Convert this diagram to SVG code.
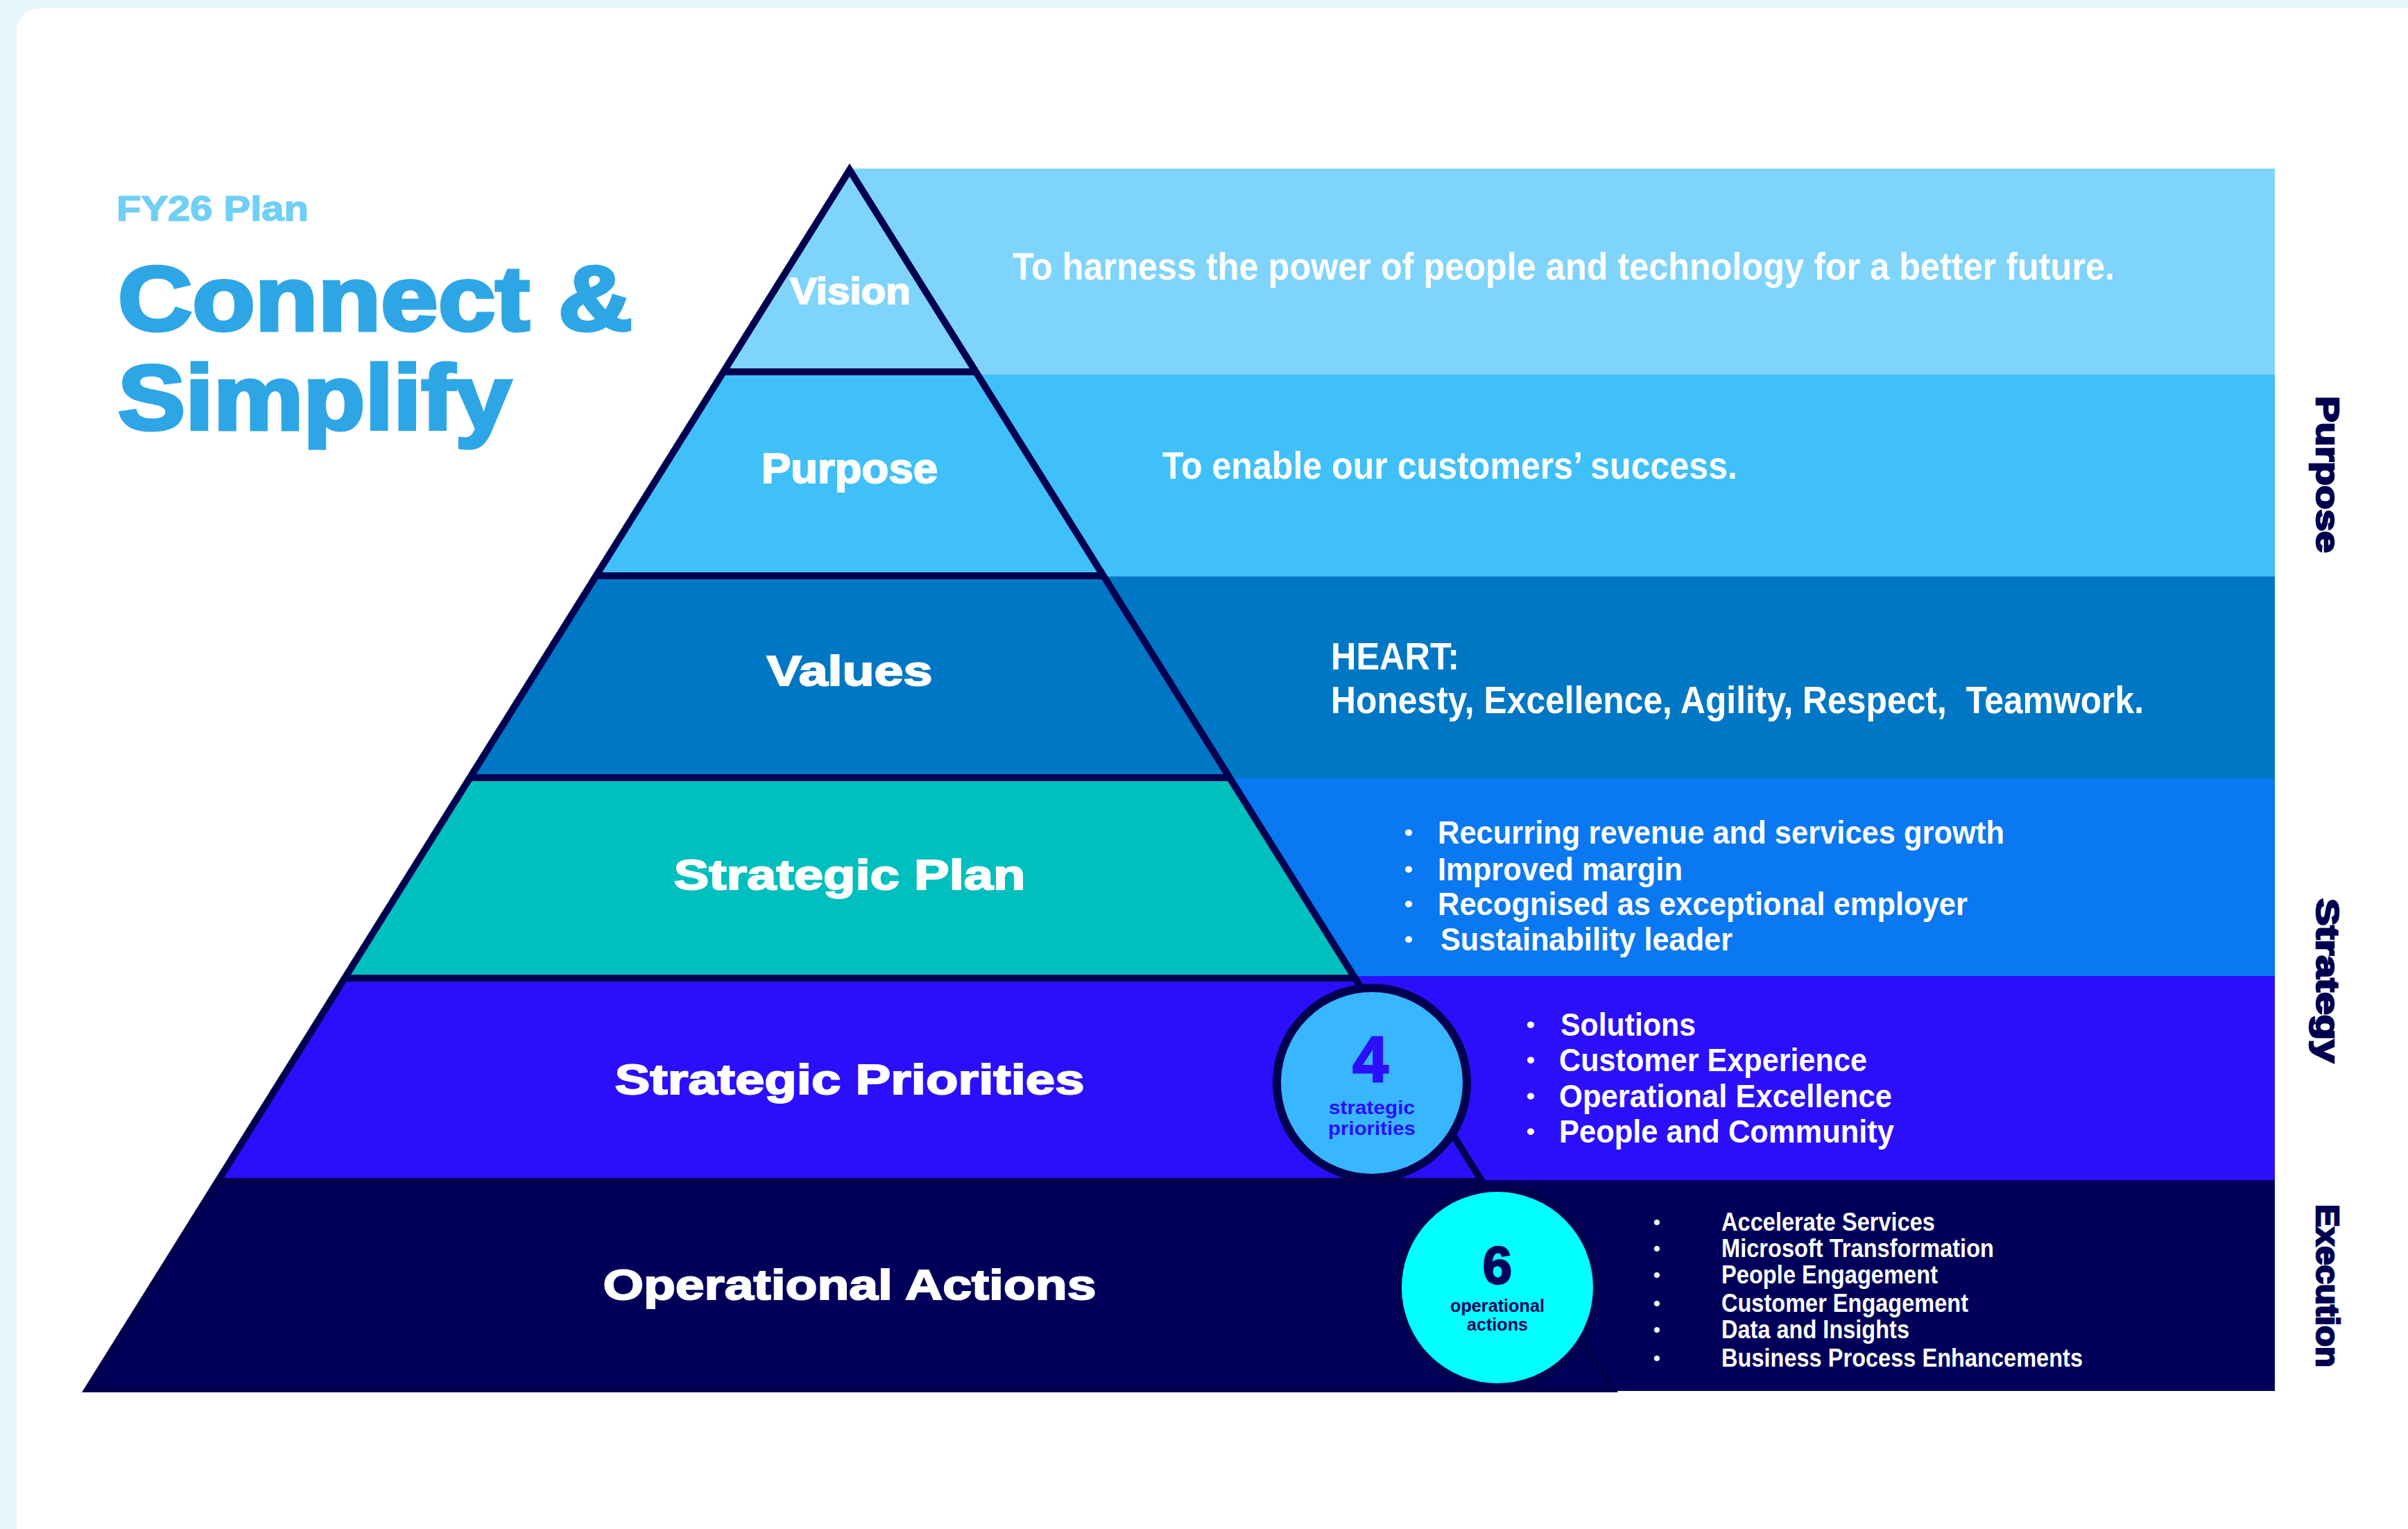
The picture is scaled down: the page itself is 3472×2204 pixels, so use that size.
<svg xmlns="http://www.w3.org/2000/svg" width="3472" height="2204" viewBox="0 0 3472 2204">
<style>
text{font-family:"Liberation Sans",Arial,sans-serif;font-weight:700;paint-order:stroke}
.t{font-size:62px;text-anchor:middle;fill:#fff;stroke:#fff;stroke-width:2px}
.b{font-size:46px;fill:#fff}
.s{font-size:36px;fill:#fff}
.d{font-size:55px;fill:#fff}
.bb{font-size:34px;fill:#fff}
.sb{font-size:28px;fill:#fff}
.side{font-size:46px;fill:#00004f;stroke:#00004f;stroke-width:2.5px}
.head{fill:#2ea6e6;stroke:#2ea6e6;stroke-width:5px;font-size:132px}
.ln{stroke:#00004f;stroke-width:10;fill:none}
</style>
<rect width="3472" height="2204" fill="#e6f6fd"/>
<rect x="24" y="12" width="3500" height="2300" rx="32" fill="#fff"/>
<g id="title">
<text x="168" y="318" font-size="50" fill="#6fcff5" stroke="#6fcff5" stroke-width="1.5" textLength="277" lengthAdjust="spacingAndGlyphs">FY26 Plan</text>
<text class="head" x="170" y="476" textLength="742" lengthAdjust="spacingAndGlyphs">Connect &amp;</text>
<text class="head" x="170" y="619" textLength="567" lengthAdjust="spacingAndGlyphs">Simplify</text>
</g>
<g id="tier-vision">
<rect x="1225" y="243" width="2055" height="297" fill="#7fd4fb"/>
<polygon points="1225,243 1410,538 1040,538" fill="#7fd4fb"/>
<text class="t" x="1226" y="438" style="font-size:54px" textLength="174" lengthAdjust="spacingAndGlyphs">Vision</text>
<text class="d" x="1460" y="403" textLength="1589" lengthAdjust="spacingAndGlyphs">To harness the power of people and technology for a better future.</text>
</g>
<g id="tier-purpose">
<polygon points="1040,540 3280,540 3280,831 858,831" fill="#40c0f8"/>
<text class="t" x="1225" y="696" textLength="254" lengthAdjust="spacingAndGlyphs">Purpose</text>
<text class="d" x="1676" y="690" textLength="829" lengthAdjust="spacingAndGlyphs">To enable our customers’ success.</text>
</g>
<g id="tier-values">
<polygon points="858,831 3280,831 3280,1122 675,1122" fill="#0077c4"/>
<text class="t" x="1225" y="988" textLength="239" lengthAdjust="spacingAndGlyphs">Values</text>
<text class="d" x="1919" y="965" textLength="185" lengthAdjust="spacingAndGlyphs">HEART:</text>
<text class="d" x="1919" y="1028" textLength="1172" lengthAdjust="spacingAndGlyphs" xml:space="preserve">Honesty, Excellence, Agility, Respect,  Teamwork.</text>
</g>
<g id="tier-strategic-plan">
<rect x="1775" y="1122" width="1505" height="285" fill="#0a78f0"/>
<polygon points="675,1121 1775,1121 1954,1408 496,1408" fill="#00bfbf"/>
<text class="t" x="1225" y="1282" textLength="507" lengthAdjust="spacingAndGlyphs">Strategic Plan</text>
<text class="bb" x="2025" y="1211">•</text><text class="b" x="2073" y="1216" textLength="817" lengthAdjust="spacingAndGlyphs">Recurring revenue and services growth</text>
<text class="bb" x="2025" y="1264">•</text><text class="b" x="2073" y="1269" textLength="353" lengthAdjust="spacingAndGlyphs">Improved margin</text>
<text class="bb" x="2025" y="1314">•</text><text class="b" x="2073" y="1319" textLength="764" lengthAdjust="spacingAndGlyphs">Recognised as exceptional employer</text>
<text class="bb" x="2025" y="1365">•</text><text class="b" x="2077" y="1370" textLength="421" lengthAdjust="spacingAndGlyphs">Sustainability leader</text>
</g>
<g id="tier-strategic-priorities">
<polygon points="496,1407 3280,1407 3280,1701 2139,1703 311,1703" fill="#2b0ffb"/>
<text class="t" x="1225" y="1577" textLength="677" lengthAdjust="spacingAndGlyphs">Strategic Priorities</text>
<text class="bb" x="2201" y="1488">•</text><text class="b" x="2250" y="1493" textLength="195" lengthAdjust="spacingAndGlyphs">Solutions</text>
<text class="bb" x="2201" y="1539">•</text><text class="b" x="2248" y="1544" textLength="444" lengthAdjust="spacingAndGlyphs">Customer Experience</text>
<text class="bb" x="2201" y="1591">•</text><text class="b" x="2248" y="1596" textLength="480" lengthAdjust="spacingAndGlyphs">Operational Excellence</text>
<text class="bb" x="2201" y="1642">•</text><text class="b" x="2248" y="1647" textLength="483" lengthAdjust="spacingAndGlyphs">People and Community</text>
</g>
<g id="tier-operational-actions">
<polygon points="311,1701 3280,1701 3280,2005 2329,2005 122,2005" fill="#00005a"/>
<text class="t" x="1225" y="1873" textLength="711" lengthAdjust="spacingAndGlyphs">Operational Actions</text>
<text class="sb" x="2384" y="1771">•</text><text class="s" x="2482" y="1774" textLength="308" lengthAdjust="spacingAndGlyphs">Accelerate Services</text>
<text class="sb" x="2384" y="1809">•</text><text class="s" x="2482" y="1812" textLength="393" lengthAdjust="spacingAndGlyphs">Microsoft Transformation</text>
<text class="sb" x="2384" y="1847">•</text><text class="s" x="2482" y="1850" textLength="312" lengthAdjust="spacingAndGlyphs">People Engagement</text>
<text class="sb" x="2384" y="1888">•</text><text class="s" x="2482" y="1891" textLength="356" lengthAdjust="spacingAndGlyphs">Customer Engagement</text>
<text class="sb" x="2384" y="1926">•</text><text class="s" x="2482" y="1929" textLength="271" lengthAdjust="spacingAndGlyphs">Data and Insights</text>
<text class="sb" x="2384" y="1967">•</text><text class="s" x="2482" y="1970" textLength="521" lengthAdjust="spacingAndGlyphs">Business Process Enhancements</text>
</g>
<g id="connectors">
<polygon class="ln" points="1225,245 2324,2002 127,2002"/>
<path class="ln" d="M1040,536H1410M858,830H1592M675,1121H1775M496,1410H1954M311,1703H2139"/>
</g>
<g id="badge-4">
<circle cx="1978" cy="1561" r="137" fill="#38b6ff" stroke="#00004f" stroke-width="12"/>
<text x="1976" y="1559" font-size="92" fill="#2b0ffb" stroke="#2b0ffb" stroke-width="3" text-anchor="middle">4</text>
<text x="1978" y="1606" font-size="28" fill="#2b0ffb" text-anchor="middle" textLength="124" lengthAdjust="spacingAndGlyphs">strategic</text>
<text x="1978" y="1636" font-size="28" fill="#2b0ffb" text-anchor="middle" textLength="126" lengthAdjust="spacingAndGlyphs">priorities</text>
</g>
<g id="badge-6">
<circle cx="2159" cy="1856" r="143" fill="#00ffff" stroke="#00004f" stroke-width="10"/>
<text x="2159" y="1850" font-size="76" fill="#00005a" stroke="#00005a" stroke-width="2.5" text-anchor="middle">6</text>
<text x="2159" y="1891" font-size="26" fill="#00005a" text-anchor="middle" textLength="136" lengthAdjust="spacingAndGlyphs">operational</text>
<text x="2159" y="1918" font-size="26" fill="#00005a" text-anchor="middle" textLength="88" lengthAdjust="spacingAndGlyphs">actions</text>
</g>
<g id="side-labels">
<text class="side" transform="translate(3340,571) rotate(90)" textLength="226" lengthAdjust="spacingAndGlyphs">Purpose</text>
<text class="side" transform="translate(3340,1295) rotate(90)" textLength="237" lengthAdjust="spacingAndGlyphs">Strategy</text>
<text class="side" transform="translate(3340,1736) rotate(90)" textLength="235" lengthAdjust="spacingAndGlyphs">Execution</text>
</g>
</svg>
